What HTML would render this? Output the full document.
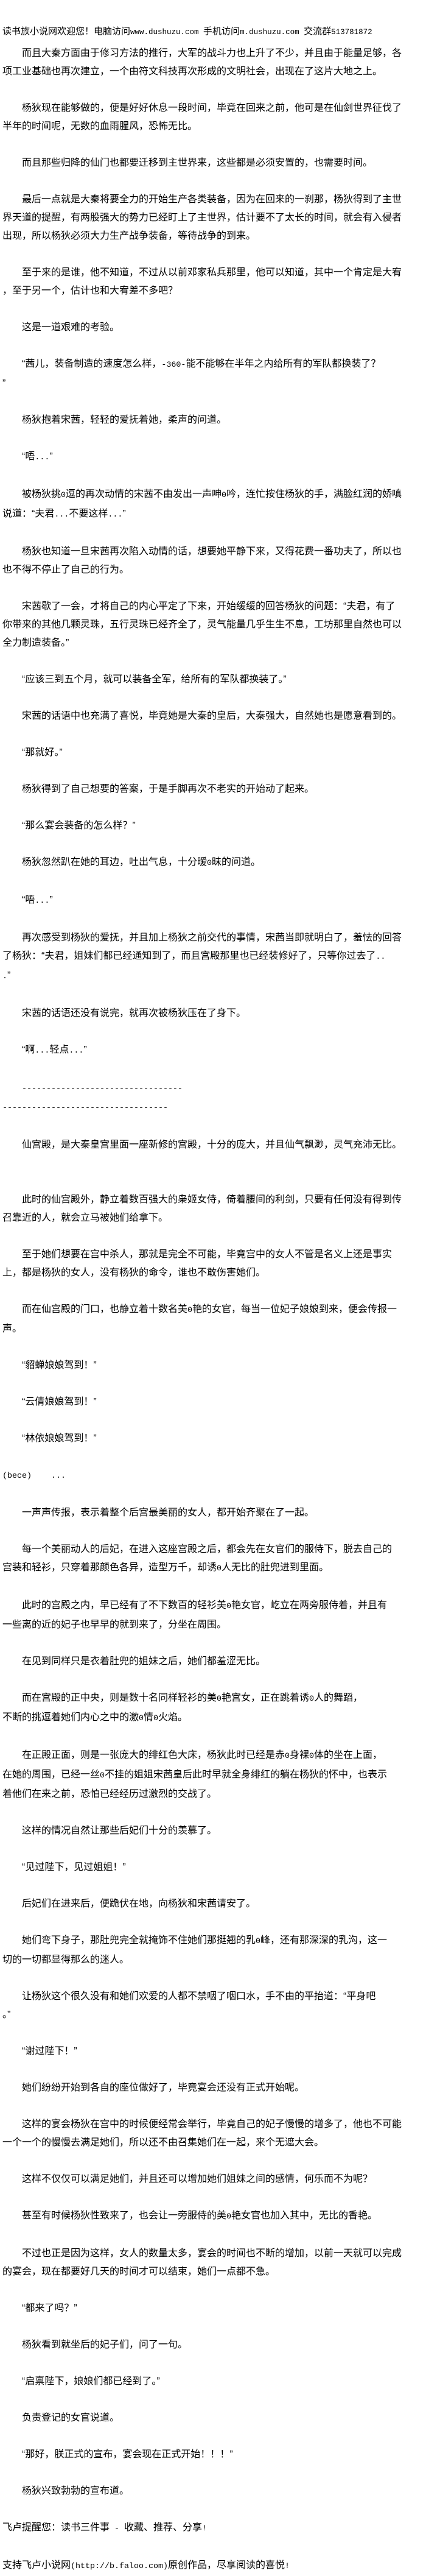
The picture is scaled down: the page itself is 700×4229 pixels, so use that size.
<!DOCTYPE html>
<html><head><meta charset="utf-8">
<style>
html,body{margin:0;padding:0;background:#fff;}
body{width:700px;height:4210px;position:relative;overflow:hidden;color:#000;
font-family:"Liberation Sans","Noto Sans CJK SC",sans-serif;}
.h{position:absolute;left:4px;top:37px;font-size:15px;line-height:30px;white-space:nowrap;}
.t{position:absolute;left:4px;top:73px;width:680px;overflow:hidden;font-size:16px;line-height:30px;white-space:pre;}
.a{font-family:"Liberation Mono",monospace;font-size:13.33px;}
.ha{font-family:"Liberation Mono",monospace;font-size:12.5px;}
</style></head><body>
<div class="h">读书族小说网欢迎您！电脑访问<span class="ha">www.dushuzu.com </span>手机访问<span class="ha">m.dushuzu.com </span>交流群<span class="ha">513781872</span></div>
<div class="t">　　而且大秦方面由于修习方法的推行，大军的战斗力也上升了不少，并且由于能量足够，各
项工业基础也再次建立，一个由符文科技再次形成的文明社会，出现在了这片大地之上。

　　杨狄现在能够做的，便是好好休息一段时间，毕竟在回来之前，他可是在仙剑世界征伐了
半年的时间呢，无数的血雨腥风，恐怖无比。

　　而且那些归降的仙门也都要迁移到主世界来，这些都是必须安置的，也需要时间。

　　最后一点就是大秦将要全力的开始生产各类装备，因为在回来的一刹那，杨狄得到了主世
界天道的提醒，有两股强大的势力已经盯上了主世界，估计要不了太长的时间，就会有入侵者
出现，所以杨狄必须大力生产战争装备，等待战争的到来。

　　至于来的是谁，他不知道，不过从以前邓家私兵那里，他可以知道，其中一个肯定是大宥
，至于另一个，估计也和大宥差不多吧？

　　这是一道艰难的考验。

　　“茜儿，装备制造的速度怎么样，<span class="a">-360-</span>能不能够在半年之内给所有的军队都换装了？
”

　　杨狄抱着宋茜，轻轻的爱抚着她，柔声的问道。

　　“唔<span class="a">...</span>”

　　被杨狄挑<span class="a">0</span>逗的再次动情的宋茜不由发出一声呻<span class="a">0</span>吟，连忙按住杨狄的手，满脸红润的娇嗔
说道：“夫君<span class="a">...</span>不要这样<span class="a">...</span>”

　　杨狄也知道一旦宋茜再次陷入动情的话，想要她平静下来，又得花费一番功夫了，所以也
也不得不停止了自己的行为。

　　宋茜歇了一会，才将自己的内心平定了下来，开始缓缓的回答杨狄的问题：“夫君，有了
你带来的其他几颗灵珠，五行灵珠已经齐全了，灵气能量几乎生生不息，工坊那里自然也可以
全力制造装备。”

　　“应该三到五个月，就可以装备全军，给所有的军队都换装了。”

　　宋茜的话语中也充满了喜悦，毕竟她是大秦的皇后，大秦强大，自然她也是愿意看到的。

　　“那就好。”

　　杨狄得到了自己想要的答案，于是手脚再次不老实的开始动了起来。

　　“那么宴会装备的怎么样？”

　　杨狄忽然趴在她的耳边，吐出气息，十分暧<span class="a">0</span>昧的问道。

　　“唔<span class="a">...</span>”

　　再次感受到杨狄的爱抚，并且加上杨狄之前交代的事情，宋茜当即就明白了，羞怯的回答
了杨狄：“夫君，姐妹们都已经通知到了，而且宫殿那里也已经装修好了，只等你过去了<span class="a">..</span>
<span class="a">.</span>”

　　宋茜的话语还没有说完，就再次被杨狄压在了身下。

　　“啊<span class="a">...</span>轻点<span class="a">...</span>”

<span class="a">    ---------------------------------</span>
<span class="a">----------------------------------</span>

　　仙宫殿，是大秦皇宫里面一座新修的宫殿，十分的庞大，并且仙气飘渺，灵气充沛无比。


　　此时的仙宫殿外，静立着数百强大的枭姬女侍，倚着腰间的利剑，只要有任何没有得到传
召靠近的人，就会立马被她们给拿下。

　　至于她们想要在宫中杀人，那就是完全不可能，毕竟宫中的女人不管是名义上还是事实
上，都是杨狄的女人，没有杨狄的命令，谁也不敢伤害她们。

　　而在仙宫殿的门口，也静立着十数名美<span class="a">0</span>艳的女官，每当一位妃子娘娘到来，便会传报一
声。

　　“貂蝉娘娘驾到！”

　　“云倩娘娘驾到！”

　　“林依娘娘驾到！”

<span class="a">(bece)    ...</span>

　　一声声传报，表示着整个后宫最美丽的女人，都开始齐聚在了一起。

　　每一个美丽动人的后妃，在进入这座宫殿之后，都会先在女官们的服侍下，脱去自己的
宫装和轻衫，只穿着那颜色各异，造型万千，却诱<span class="a">0</span>人无比的肚兜进到里面。

　　此时的宫殿之内，早已经有了不下数百的轻衫美<span class="a">0</span>艳女官，屹立在两旁服侍着，并且有
一些离的近的妃子也早早的就到来了，分坐在周围。

　　在见到同样只是衣着肚兜的姐妹之后，她们都羞涩无比。

　　而在宫殿的正中央，则是数十名同样轻衫的美<span class="a">0</span>艳宫女，正在跳着诱<span class="a">0</span>人的舞蹈，
不断的挑逗着她们内心之中的激<span class="a">0</span>情<span class="a">0</span>火焰。

　　在正殿正面，则是一张庞大的绯红色大床，杨狄此时已经是赤<span class="a">0</span>身裸<span class="a">0</span>体的坐在上面，
在她的周围，已经一丝<span class="a">0</span>不挂的姐姐宋茜皇后此时早就全身绯红的躺在杨狄的怀中，也表示
着他们在来之前，恐怕已经经历过激烈的交战了。

　　这样的情况自然让那些后妃们十分的羡慕了。

　　“见过陛下，见过姐姐！”

　　后妃们在进来后，便跪伏在地，向杨狄和宋茜请安了。

　　她们弯下身子，那肚兜完全就掩饰不住她们那挺翘的乳<span class="a">0</span>峰，还有那深深的乳沟，这一
切的一切都显得那么的迷人。

　　让杨狄这个很久没有和她们欢爱的人都不禁咽了咽口水，手不由的平抬道：“平身吧
。”

　　“谢过陛下！”

　　她们纷纷开始到各自的座位做好了，毕竟宴会还没有正式开始呢。

　　这样的宴会杨狄在宫中的时候便经常会举行，毕竟自己的妃子慢慢的增多了，他也不可能
一个一个的慢慢去满足她们，所以还不由召集她们在一起，来个无遮大会。

　　这样不仅仅可以满足她们，并且还可以增加她们姐妹之间的感情，何乐而不为呢？

　　甚至有时候杨狄性致来了，也会让一旁服侍的美<span class="a">0</span>艳女官也加入其中，无比的香艳。

　　不过也正是因为这样，女人的数量太多，宴会的时间也不断的增加，以前一天就可以完成
的宴会，现在都要好几天的时间才可以结束，她们一点都不急。

　　“都来了吗？”

　　杨狄看到就坐后的妃子们，问了一句。

　　“启禀陛下，娘娘们都已经到了。”

　　负责登记的女官说道。

　　“那好，朕正式的宣布，宴会现在正式开始！！！”

　　杨狄兴致勃勃的宣布道。

飞卢提醒您：读书三件事<span class="a"> - </span>收藏、推荐、分享<span class="a">!</span>

支持飞卢小说网<span class="a">(http://b.faloo.com)</span>原创作品，尽享阅读的喜悦<span class="a">!</span></div>
</body></html>
